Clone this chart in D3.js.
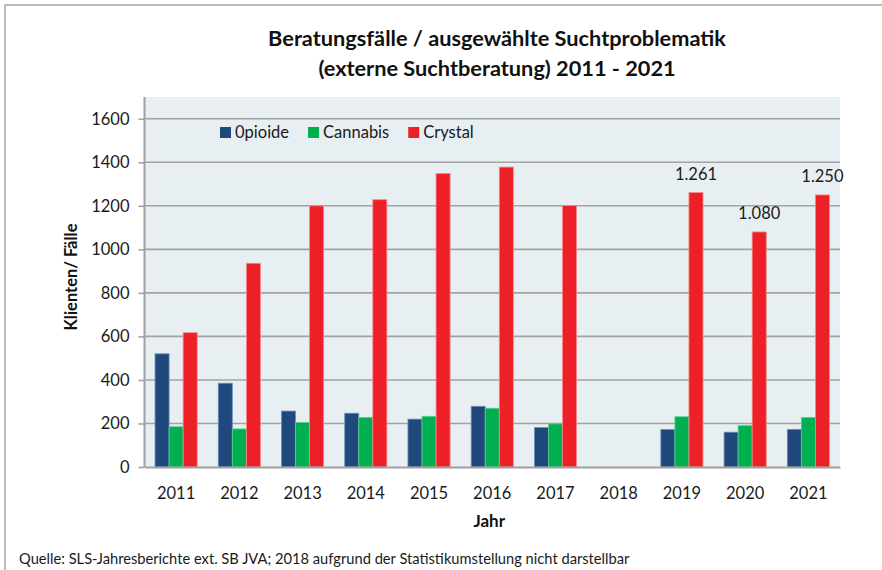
<!DOCTYPE html>
<html>
<head>
<meta charset="utf-8">
<script src="https://cdn.jsdelivr.net/npm/d3@7"></script>
<style>
  html, body { margin: 0; padding: 0; background: #ffffff; }
  svg { display: block; font-family: Lato, "Open Sans", sans-serif; }
</style>
</head>
<body>
<svg id="chart" width="882" height="570"></svg>
<script>
// Beratungsfälle nach Suchtproblematik, 2011–2021 (2018 ohne Daten)
const years = ["2011", "2012", "2013", "2014", "2015", "2016", "2017", "2018", "2019", "2020", "2021"];
const seriesNames = ["0pioide", "Cannabis", "Crystal"];
const opioide  = [520, 385, 257, 247, 220, 279, 181, null, 172, 160, 173];
const cannabis = [185, 175, 205, 228, 233, 270, 198, null, 231, 190, 228];
const crystal  = [617, 936, 1200, 1228, 1349, 1378, 1201, null, 1261, 1080, 1250];
const yTicks = [0, 200, 400, 600, 800, 1000, 1200, 1400, 1600];
// Werte, die im Diagramm beschriftet werden (Serie Crystal)
const labelledYears = ["2019", "2020", "2021"];

const colors = ["#1f497d", "#00b050", "#ed2027"];
const edgeColors = ["#6f8fb5", "#5fd08f", "#f58a8d"];

const svg = d3.select("#chart");
const W = 882, H = 570;
const plot = { left: 144.5, right: 840, top: 97, bottom: 467 };

// Rahmen
svg.append("rect")
  .attr("x", 5).attr("y", 5).attr("width", W + 20).attr("height", H + 20)
  .attr("fill", "none").attr("stroke", "#a6a6a6").attr("stroke-width", 1.5);

// Hintergrund der Zeichenfläche
svg.append("rect")
  .attr("x", plot.left).attr("y", plot.top)
  .attr("width", plot.right - plot.left).attr("height", plot.bottom - plot.top)
  .attr("fill", "#e8eff3");

const x = d3.scaleBand().domain(years).range([plot.left, plot.right]).paddingInner(0).paddingOuter(0);
const barW = x.bandwidth() / 4.5;  // gap width 150 %
const xSub = d3.scaleBand().domain(seriesNames).range([0, barW * 3]);
const y = d3.scaleLinear().domain([0, 1700]).range([plot.bottom, plot.top]);

// Gitternetzlinien
svg.append("g").selectAll("line").data(yTicks.filter(d => d > 0)).join("line")
  .attr("x1", plot.left).attr("x2", plot.right)
  .attr("y1", d => y(d)).attr("y2", d => y(d))
  .attr("stroke", "#a3a3a3").attr("stroke-width", 1.6);

// Balken
const rows = years.map((yr, i) => ({ year: yr, values: [opioide[i], cannabis[i], crystal[i]] }));
const groups = svg.append("g").selectAll("g").data(rows).join("g")
  .attr("transform", d => `translate(${x(d.year) + (x.bandwidth() - barW * 3) / 2},0)`);
groups.selectAll("rect")
  .data(d => d.values.map((v, k) => ({ v, k })).filter(e => e.v != null))
  .join("rect")
  .attr("x", e => xSub(seriesNames[e.k]))
  .attr("width", barW)
  .attr("y", e => y(e.v))
  .attr("height", e => y(0) - y(e.v))
  .attr("fill", e => colors[e.k])
  .attr("stroke", e => edgeColors[e.k])
  .attr("stroke-width", 0.8);

// Achsen
const yAxis = d3.axisLeft(y).tickValues(yTicks).tickSize(6).tickPadding(9).tickFormat(d3.format("d"));
const gy = svg.append("g").attr("transform", `translate(${plot.left},0)`).call(yAxis);
gy.select(".domain").attr("stroke", "#a0a0a0").attr("stroke-width", 2).attr("d", `M0,${plot.top}V${plot.bottom}`);
gy.selectAll(".tick line").attr("stroke", "#a0a0a0").attr("stroke-width", 1.6);
gy.selectAll(".tick text").attr("font-family", "Lato, sans-serif").attr("font-size", 16.5).attr("fill", "#1a1a1a");

const xAxis = d3.axisBottom(x).tickSize(0).tickPadding(20);
const gx = svg.append("g").attr("transform", `translate(0,${plot.bottom})`).call(xAxis);
gx.select(".domain").attr("stroke", "#a0a0a0").attr("stroke-width", 2);
gx.selectAll(".tick text").attr("font-family", "Lato, sans-serif").attr("font-size", 16.5).attr("fill", "#1a1a1a");

// Datenbeschriftungen (deutsches Zahlenformat)
const deFormat = d3.formatLocale({ decimal: ",", thousands: ".", grouping: [3], currency: ["", " €"] }).format(",.0f");
svg.append("g").selectAll("text")
  .data(labelledYears.map(yr => ({ year: yr, v: crystal[years.indexOf(yr)] })))
  .join("text")
  .attr("x", d => x(d.year) + (x.bandwidth() - barW * 3) / 2 + xSub("Crystal") + barW / 2)
  .attr("y", d => y(d.v) - 13)
  .attr("text-anchor", "middle")
  .attr("font-size", 16.5).attr("fill", "#1a1a1a")
  .text(d => deFormat(d.v));

// Legende
const legend = svg.append("g").attr("transform", "translate(220,138)");
let lx = 0;
seriesNames.forEach((name, k) => {
  legend.append("rect").attr("x", lx).attr("y", -11).attr("width", 11).attr("height", 11).attr("fill", colors[k]);
  const t = legend.append("text").attr("x", lx + 15).attr("y", 0)
    .attr("font-size", 16.5).attr("fill", "#1a1a1a").text(name);
  lx += 15 + t.node().getComputedTextLength() + 19;
});

// Text auf Zielbreite bringen
function fitWidth(sel, target) {
  const w = sel.node().getComputedTextLength();
  const fs = parseFloat(sel.attr("font-size"));
  sel.attr("font-size", fs * target / w);
}

// Titel
const cx = (plot.left + plot.right) / 2;
const t1 = svg.append("text").attr("x", 497).attr("y", 46).attr("text-anchor", "middle")
  .attr("font-weight", "bold").attr("font-size", 20).attr("fill", "#111")
  .text("Beratungsfälle / ausgewählte Suchtproblematik");
fitWidth(t1, 458);
const t2 = svg.append("text").attr("x", 497).attr("y", 76).attr("text-anchor", "middle")
  .attr("font-weight", "bold").attr("font-size", t1.attr("font-size")).attr("fill", "#111")
  .text("(externe Suchtberatung) 2011 - 2021");

// Achsentitel
svg.append("text").attr("x", cx - 3).attr("y", 527).attr("text-anchor", "middle")
  .attr("font-weight", "bold").attr("font-size", 17).attr("fill", "#111").text("Jahr");
const yt = svg.append("text").attr("transform", "translate(77,277) rotate(-90)").attr("text-anchor", "middle")
  .attr("font-weight", "bold").attr("font-size", 16).attr("fill", "#111").text("Klienten/ Fälle");
fitWidth(yt, 107);

// Quelle
const src = svg.append("text").attr("x", 19).attr("y", 564)
  .attr("font-size", 13.5).attr("fill", "#1a1a1a")
  .text("Quelle: SLS-Jahresberichte ext. SB JVA; 2018 aufgrund der Statistikumstellung nicht darstellbar");
fitWidth(src, 611);
</script>
</body>
</html>
